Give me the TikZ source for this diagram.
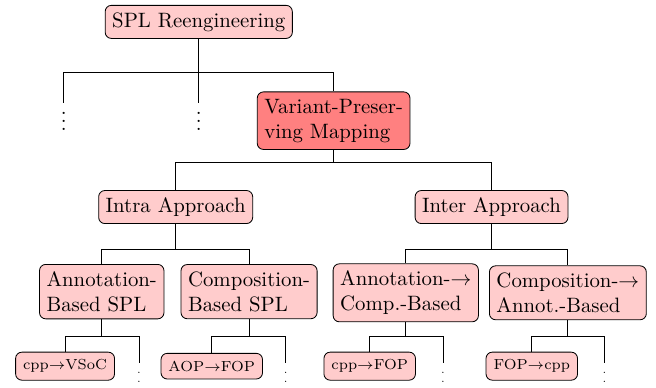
\documentclass[tikz,border=0pt]{standalone}
\usepackage{amsmath}
\usetikzlibrary{positioning, calc}

\begin{document}
\begin{tikzpicture}
      \tikzset{ cat/.style  ={draw=black, rounded corners=3pt, fill=red!20, text=black, align=left, inner sep=3.4pt} }
      \tikzset{ focus/.style={cat, fill=red!50} }
      \tikzset{ tool/.style ={draw=black, rounded corners=3pt, fill=red!20, text=black, font=\scriptsize, inner sep=3.6pt} }
      \tikzset{ more/.style ={inner sep=0pt, anchor=north} }

      \path[use as bounding box] (0, 0) rectangle (11.09, -6.545);

      % top two levels
      \node[cat  ] (spl)   at (3.36, -0.37) {SPL Reengineering};
      \node[more, outer ysep=-1.7pt] (oth1) at (1.08, -1.74) {$\vdots$};
      \node[more, outer ysep=-1.7pt] (oth2) at (3.36, -1.74) {$\vdots$};
      \node[focus] (vpm)   at (5.64, -2.04) {Variant-Preser-\\ving Mapping};

      % approaches
      \node[cat  ] (intra) at (2.97, -3.50) {Intra Approach};
      \node[cat  ] (inter) at (8.31, -3.50) {Inter Approach};

      \node[cat  ] (annot) at (1.72, -4.93) {Annotation-\\Based SPL};
      \node[cat  ] (comp)  at (4.21, -4.93) {Composition-\\Based SPL};
      \node[cat  ] (a2c)   at (6.86, -4.95) {Annotation-$\rightarrow$\\Comp.-Based};
      \node[cat  ] (c2a)   at (9.60, -4.95) {Composition-$\rightarrow$\\Annot.-Based};

      % concrete migrations
      \node[tool ] (vsoc)  at (1.10, -6.19) {cpp$\rightarrow$VSoC};
      \node[tool ] (aop)   at (3.58, -6.19) {AOP$\rightarrow$FOP};
      \node[tool ] (cfop)  at (6.25, -6.19) {cpp$\rightarrow$FOP};
      \node[tool ] (fcpp)  at (8.99, -6.19) {FOP$\rightarrow$cpp};
      \node[more, font=\tiny, outer ysep=-1.5pt] (m1) at ( 2.35, -6.14) {$\vdots$};
      \node[more, font=\tiny, outer ysep=-1.5pt] (m2) at ( 4.83, -6.14) {$\vdots$};
      \node[more, font=\tiny, outer ysep=-1.5pt] (m3) at ( 7.49, -6.14) {$\vdots$};
      \node[more, font=\tiny, outer ysep=-1.5pt] (m4) at (10.22, -6.14) {$\vdots$};

      % forks
      \coordinate (k0) at (3.36, -1.22);
      \coordinate (k1) at (5.64, -2.75);
      \coordinate (k2) at (2.97, -4.21);
      \coordinate (k3) at (8.31, -4.21);
      \coordinate (k4) at (1.72, -5.68);
      \coordinate (k5) at (4.21, -5.68);
      \coordinate (k6) at (6.86, -5.68);
      \coordinate (k7) at (9.60, -5.68);

      \draw (spl.south) -- (k0);
      \foreach \c in {oth1, oth2, vpm} \draw (k0) -| (\c.north);
      \draw (vpm.south) -- (k1);
      \foreach \c in {intra, inter} \draw (k1) -| (\c.north);
      \draw (intra.south) -- (k2);
      \foreach \c in {annot, comp} \draw (k2) -| (\c.north);
      \draw (inter.south) -- (k3);
      \foreach \c in {a2c, c2a} \draw (k3) -| (\c.north);
      \draw (annot.south) -- (k4);
      \foreach \c in {vsoc, m1} \draw (k4) -| (\c.north);
      \draw (comp.south) -- (k5);
      \foreach \c in {aop, m2} \draw (k5) -| (\c.north);
      \draw (a2c.south) -- (k6);
      \foreach \c in {cfop, m3} \draw (k6) -| (\c.north);
      \draw (c2a.south) -- (k7);
      \foreach \c in {fcpp, m4} \draw (k7) -| (\c.north);
    \end{tikzpicture}
\end{document}
